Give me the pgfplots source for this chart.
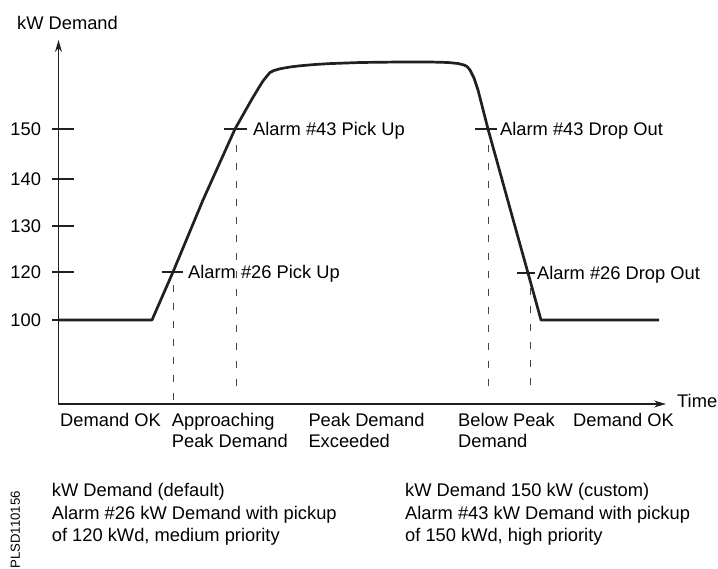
\documentclass[border=0pt]{standalone}
\usepackage{fontspec}
\setmainfont{Liberation Sans}
\usepackage{pgfplots}
\pgfplotsset{compat=1.18}
\usetikzlibrary{arrows.meta}
\definecolor{Ink}{RGB}{35,31,32}
\definecolor{DashGray}{RGB}{70,70,70}
\newcommand\lbl{\fontsize{18.3}{22}\selectfont}

\begin{document}
\begin{tikzpicture}
\begin{axis}[
    x=1pt, y=1pt,
    xmin=58.5, xmax=666,
    ymin=165, ymax=529,
    axis lines=left,
    axis line style={line width=1.3pt, draw=Ink, -{Stealth[length=12pt,width=7pt]}},
    xtick=\empty,
    ytick={249,297,343,390,440},
    yticklabels={100,120,130,140,150},
    tick align=center,
    major tick length=22pt,
    ytick style={line width=2.6pt, draw=Ink, xshift=4.5pt},
    yticklabel style={font=\lbl, anchor=east, xshift=-3pt},
    /pgf/number format/assume math mode=true,
    clip=false,
]

% demand curve
\addplot[Ink, line width=2.7pt, line join=round] coordinates {
    (58.5,249) (152,249) (173,297) (203,369) (235,440) (252,470)
    (258,480) (263,488) (267,493) (270,496.5) (274,498.5) (280,500.2)
    (290,502) (300,503.2) (315,504.5) (330,505.4) (360,506.5) (400,507)
    (430,507) (448,506.5) (458,505.5) (464,504) (467,502.5) (470,499)
    (474,491) (478,479) (488,440) (516,339) (528,296) (541,249) (659,249)
};

% alarm marks
\addplot[Ink, line width=2.6pt] coordinates {(161.7,297) (182.7,297)};
\addplot[Ink, line width=2.6pt] coordinates {(224,440) (247,440)};
\addplot[Ink, line width=2.6pt] coordinates {(475,440) (497,440)};
\addplot[Ink, line width=2.6pt] coordinates {(517,296) (535,296)};

% dashed drop lines
\addplot[DashGray, line width=1.5pt, dash pattern=on 7pt off 11pt] coordinates {(173.3,284) (173.3,169)};
\addplot[DashGray, line width=1.5pt, dash pattern=on 7pt off 11pt] coordinates {(236.7,424) (236.7,172)};
\addplot[DashGray, line width=1.5pt, dash pattern=on 7pt off 11pt] coordinates {(488.3,424) (488.3,172)};
\addplot[DashGray, line width=1.5pt, dash pattern=on 7pt off 11pt] coordinates {(530.7,281) (530.7,176)};

\path (axis cs:0,0) rectangle (axis cs:718,569);

\begin{scope}[every node/.style={anchor=base west, inner sep=0pt, font=\lbl}]
\node at (axis cs:17,539.5) {kW Demand};
\node at (axis cs:188,290.5) {Alarm \#26 Pick Up};
\node at (axis cs:253,433.5) {Alarm \#43 Pick Up};
\node at (axis cs:500,433.5) {Alarm \#43 Drop Out};
\node at (axis cs:537,289) {Alarm \#26 Drop Out};
\node at (axis cs:677,161) {Time};

\node at (axis cs:60,142.5) {Demand OK};
\node at (axis cs:171.7,142.5) {Approaching};
\node at (axis cs:171.7,121) {Peak Demand};
\node at (axis cs:308.3,142.5) {Peak Demand};
\node at (axis cs:308.3,121) {Exceeded};
\node at (axis cs:458,142.5) {Below Peak};
\node at (axis cs:458,121) {Demand};
\node at (axis cs:573,142.5) {Demand OK};

\node at (axis cs:51.7,72) {kW Demand (default)};
\node at (axis cs:51.7,49) {Alarm \#26 kW Demand with pickup};
\node at (axis cs:51.7,27) {of 120 kWd, medium priority};
\node at (axis cs:405,72) {kW Demand 150 kW (custom)};
\node at (axis cs:405,49) {Alarm \#43 kW Demand with pickup};
\node at (axis cs:405,27) {of 150 kWd, high priority};
\end{scope}

\node[rotate=90, anchor=base east, inner sep=0pt, font=\fontsize{13.2}{15}\selectfont]
    at (axis cs:20,78) {PLSD110156};

\end{axis}
\end{tikzpicture}
\end{document}
